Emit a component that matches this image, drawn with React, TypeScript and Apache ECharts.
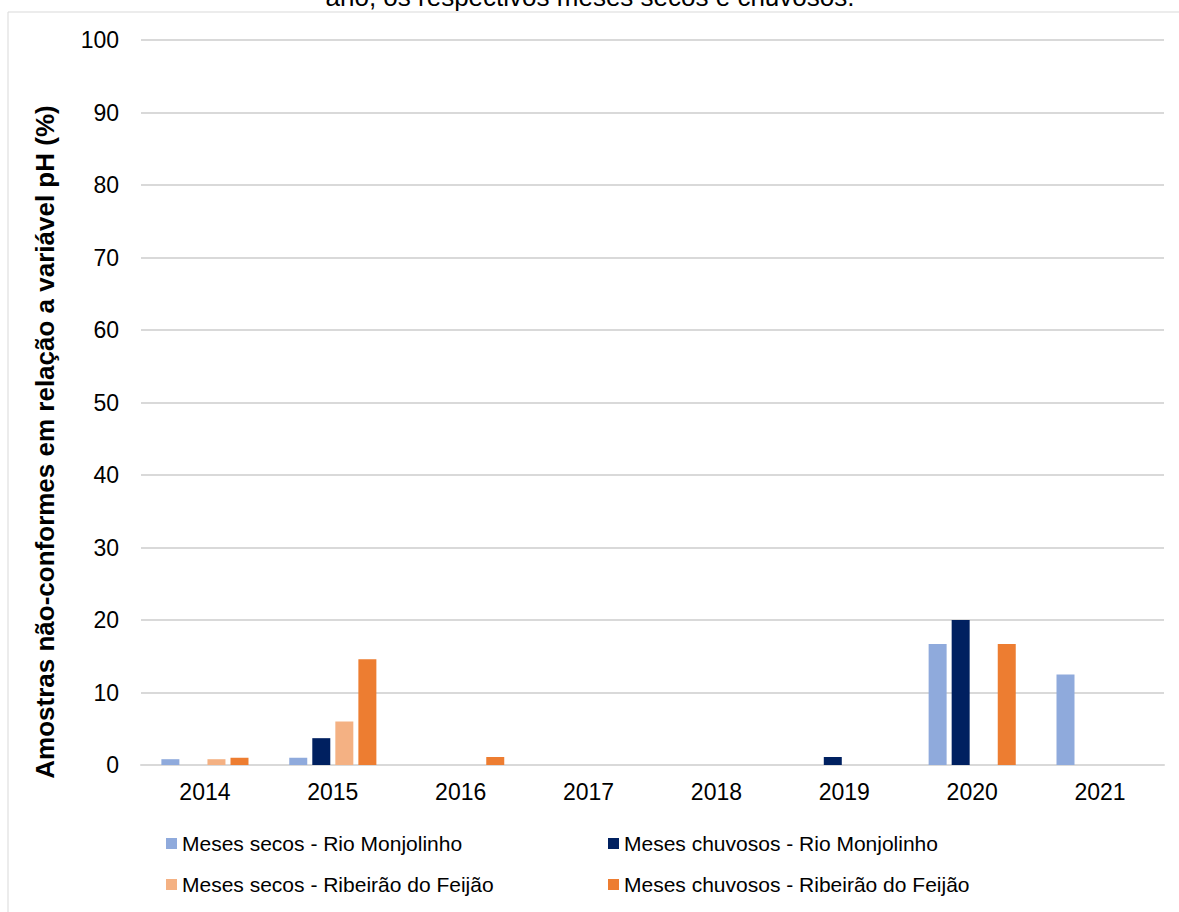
import React, { useEffect, useRef } from "react";
import * as echarts from "echarts";

const years = ["2014", "2015", "2016", "2017", "2018", "2019", "2020", "2021"];

const secosMonjolinho = [0.8, 1.0, 0, 0, 0, 0, 16.7, 12.5];
const chuvososMonjolinho = [0, 3.7, 0, 0, 0, 1.1, 20.0, 0];
const secosFeijao = [0.8, 6.0, 0, 0, 0, 0, 0, 0];
const chuvososFeijao = [1.0, 14.6, 1.1, 0, 0, 0, 16.7, 0];

const seriesNames = [
  "Meses secos - Rio Monjolinho",
  "Meses chuvosos - Rio Monjolinho",
  "Meses secos - Ribeirão do Feijão",
  "Meses chuvosos - Ribeirão do Feijão",
];
const seriesColors = ["#8FAADC", "#002060", "#F4B183", "#ED7D31"];
const seriesData = [secosMonjolinho, chuvososMonjolinho, secosFeijao, chuvososFeijao];

const titleTail = "ano, os respectivos meses secos e chuvosos.";
const yAxisTitle = "Amostras não-conformes em relação a variável pH (%)";

const FONT = "'Liberation Sans', Arial, sans-serif";

export default function App() {
  const ref = useRef<HTMLDivElement>(null);

  useEffect(() => {
    if (!ref.current) return;
    const chart = echarts.init(ref.current, undefined, { renderer: "svg" });

    const legendPos = [
      { left: 166, top: 833 },
      { left: 608, top: 833 },
      { left: 166, top: 874 },
      { left: 608, top: 874 },
    ];

    chart.setOption({
      animation: false,
      backgroundColor: "#ffffff",
      textStyle: { fontFamily: FONT },
      grid: { left: 141, right: 15, top: 40, bottom: 147, containLabel: false },
      legend: seriesNames.map((name, i) => ({
        data: [name],
        left: legendPos[i].left,
        top: legendPos[i].top,
        padding: 0,
        itemWidth: 11,
        itemHeight: 11,
        icon: "rect",
        selectedMode: false,
        textStyle: { fontSize: 21, color: "#000000", fontFamily: FONT },
      })),
      xAxis: {
        type: "category",
        data: years,
        axisLine: { show: true, lineStyle: { color: "#d9d9d9", width: 2 } },
        axisTick: { show: false },
        axisLabel: { fontSize: 23, color: "#000000", margin: 15, fontFamily: FONT },
      },
      yAxis: {
        type: "value",
        min: 0,
        max: 100,
        interval: 10,
        axisLine: { show: false },
        axisTick: { show: false },
        splitLine: { lineStyle: { color: "#d9d9d9", width: 2 } },
        axisLabel: { fontSize: 23, color: "#000000", margin: 22, fontFamily: FONT },
      },
      series: seriesNames.map((name, i) => ({
        name,
        type: "bar",
        data: seriesData[i],
        barWidth: 18,
        barGap: "28%",
        itemStyle: { color: seriesColors[i] },
      })),
      graphic: [
        {
          type: "rect",
          shape: { x: 8, y: 12, width: 1300, height: 1000 },
          style: { fill: "none", stroke: "#d9d9d9", lineWidth: 1 },
          silent: true,
          z: 0,
        },
        {
          type: "text",
          x: 590,
          y: 10,
          style: {
            text: titleTail,
            font: `26px ${FONT}`,
            fill: "#000000",
            textAlign: "center",
            textVerticalAlign: "bottom",
          },
        },
        {
          type: "text",
          x: 45,
          y: 442,
          rotation: Math.PI / 2,
          style: {
            text: yAxisTitle,
            font: `bold 26px ${FONT}`,
            fill: "#000000",
            textAlign: "center",
            textVerticalAlign: "middle",
          },
        },
      ],
    });

    return () => chart.dispose();
  }, []);

  return (
    <div
      ref={ref}
      style={{ position: "fixed", left: 0, top: 0, width: 1179, height: 912, background: "#fff" }}
    />
  );
}
